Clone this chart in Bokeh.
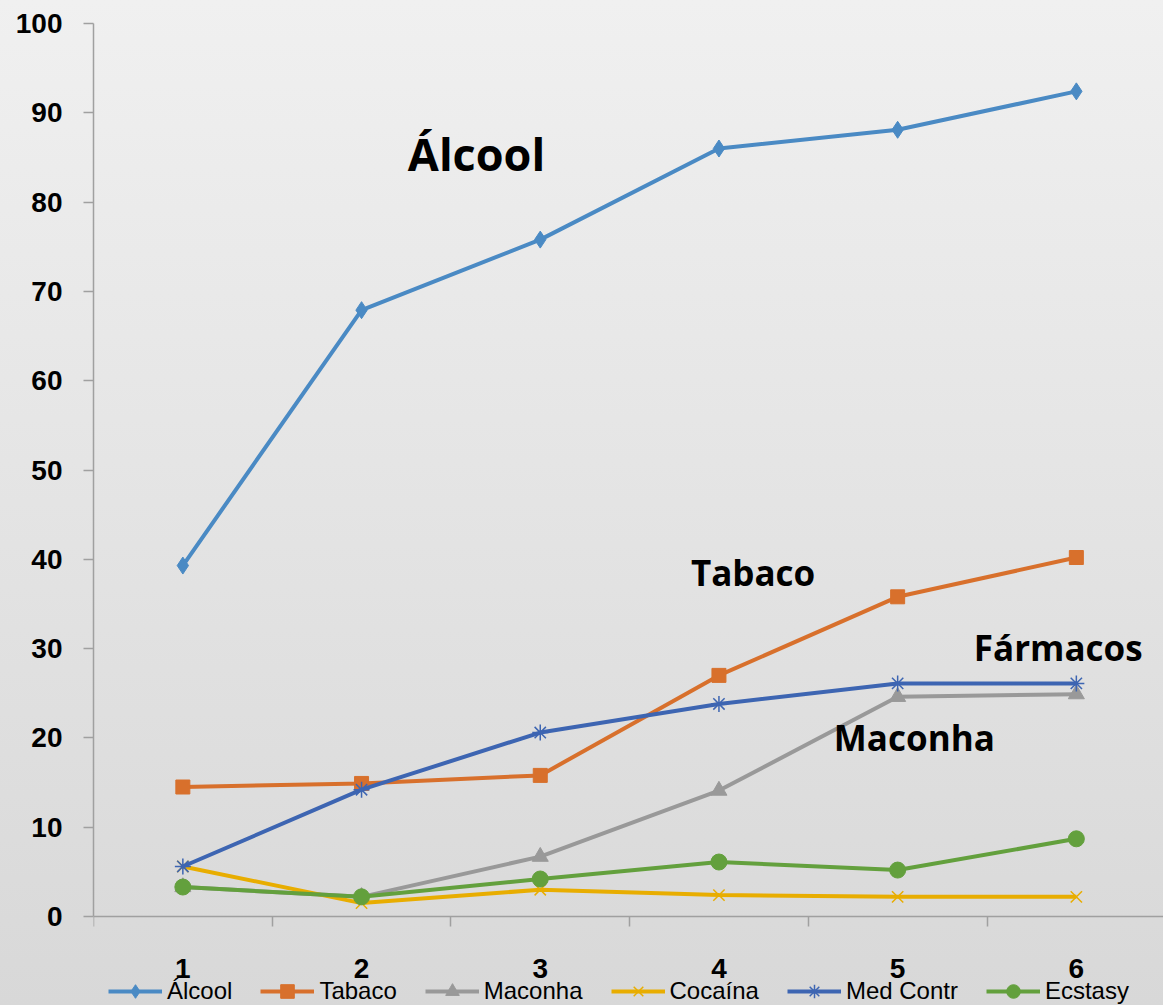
from bokeh.plotting import figure
from bokeh.models import FixedTicker, Range1d, Legend, LegendItem
from bokeh.core.properties import value
from bokeh.embed import file_html
from bokeh.resources import INLINE

# ---- data ----
grades = [1, 2, 3, 4, 5, 6]
tick_labels = ["1", "2", "3", "4", "5", "6"]
alcool = [39.3, 67.9, 75.8, 86.0, 88.1, 92.4]
tabaco = [14.5, 14.9, 15.8, 27.0, 35.8, 40.2]
maconha = [3.3, 2.2, 6.7, 14.1, 24.6, 24.9]
cocaina = [5.6, 1.5, 3.0, 2.4, 2.2, 2.2]
med_contr = [5.6, 14.2, 20.6, 23.8, 26.1, 26.1]
ecstasy = [3.3, 2.2, 4.2, 6.1, 5.2, 8.7]

series_names = ["Álcool", "Tabaco", "Maconha", "Cocaína", "Med Contr", "Ecstasy"]
annot_texts = ["Álcool", "Tabaco", "Fármacos", "Maconha"]
annot_x = [2.259, 3.843, 5.426, 4.643]
annot_y = [85.4, 38.55, 30.1, 20.0]
annot_sizes = ["45px", "35px", "35px", "35px"]

AFONT = "Open Sans"
LFONT = "Liberation Sans"

W, H = 1163, 1005
top = 23
zero_px = 916
px_per_cat = 178.7
px_per_unit = (zero_px - top) / 100.0
frame_left = 93
frame_w = W - frame_left
frame_h = H - top
x_end = 0.5 + frame_w / px_per_cat
y_start = -(H - zero_px) / px_per_unit

p = figure(frame_width=frame_w, frame_height=frame_h,
           output_backend="svg", toolbar_location=None,
           x_range=Range1d(0.5, x_end), y_range=Range1d(y_start, 100),
           min_border_left=frame_left, min_border_right=0,
           min_border_top=top, min_border_bottom=0)

p.background_fill_color = None
p.border_fill_color = None
p.outline_line_color = None
p.xgrid.visible = False
p.ygrid.visible = False

axis_col = "#a0a0a0"
# x axis (drawn at y = 0)
p.xaxis.fixed_location = 0
p.xaxis.ticker = FixedTicker(ticks=grades, minor_ticks=[g - 0.5 for g in grades] + [6.5])
p.xaxis.major_label_overrides = {g: t for g, t in zip(grades, tick_labels)}
p.xaxis.axis_line_color = axis_col
p.xaxis.axis_line_width = 1.5
p.xaxis.major_tick_line_color = None
p.xaxis.major_tick_out = 0
p.xaxis.major_tick_in = 0
p.xaxis.minor_tick_line_color = axis_col
p.xaxis.minor_tick_line_width = 1.5
p.xaxis.minor_tick_out = 10
p.xaxis.minor_tick_in = 0
p.xaxis.major_label_standoff = 32
p.xaxis.major_label_text_font = LFONT
p.xaxis.major_label_text_font_style = "bold"
p.xaxis.major_label_text_font_size = "28px"
p.xaxis.major_label_text_color = "black"

# y axis
p.yaxis.bounds = (0, 100)
p.yaxis.ticker = FixedTicker(ticks=list(range(0, 101, 10)), minor_ticks=[])
p.yaxis.axis_line_color = axis_col
p.yaxis.axis_line_width = 1.5
p.yaxis.major_tick_line_color = axis_col
p.yaxis.major_tick_line_width = 1.5
p.yaxis.major_tick_out = 10
p.yaxis.major_tick_in = 0
p.yaxis.minor_tick_line_color = None
p.yaxis.major_label_standoff = 21
p.yaxis.major_label_text_font = LFONT
p.yaxis.major_label_text_font_style = "bold"
p.yaxis.major_label_text_font_size = "28px"
p.yaxis.major_label_text_color = "black"

styles = [
    (alcool, "#4a8ac4", "diamond", 17, 4),
    (tabaco, "#d8702c", "square", 14, 4),
    (maconha, "#999999", "triangle", 16, 4),
    (cocaina, "#e8ad00", "x", 16, 4),
    (med_contr, "#3d65b2", "asterisk", 16, 4),
    (ecstasy, "#63a03d", "circle", 16, 4),
]

items = []
for name, (vals, col, mk, sz, lw) in zip(series_names, styles):
    r1 = p.line(grades, vals, line_color=col, line_width=lw)
    if mk in ("x", "asterisk"):
        r2 = p.scatter(grades, vals, marker=mk, size=sz,
                       line_color=col, line_width=1.5, fill_color=col)
    else:
        r2 = p.scatter(grades, vals, marker=mk, size=sz,
                       line_color=col, fill_color=col)
    items.append(LegendItem(label=name, renderers=[r1, r2]))

for t, x, y, s in zip(annot_texts, annot_x, annot_y, annot_sizes):
    p.text(x=[x], y=[y], text=[t], text_font=value(AFONT), text_font_style="bold",
           text_font_size=s, text_color="black", text_align="left",
           text_baseline="alphabetic")

legend = Legend(items=items, orientation="horizontal", location=(15, -3),
                background_fill_alpha=0, border_line_color=None,
                padding=0, margin=0, spacing=28, label_standoff=5,
                glyph_width=54, glyph_height=34, label_height=20,
                label_text_font=LFONT, label_text_font_size="24px",
                label_text_color="black")
p.add_layout(legend, "center")

html = file_html(p, INLINE)
css = ("<style>html{height:100%;background:linear-gradient(to bottom,#f0f0f0 0%,"
       "#d8d8d8 100%);} body{background:transparent;}</style>")
html = html.replace("</head>", css + "</head>", 1)
open("out.html", "w").write(html)
